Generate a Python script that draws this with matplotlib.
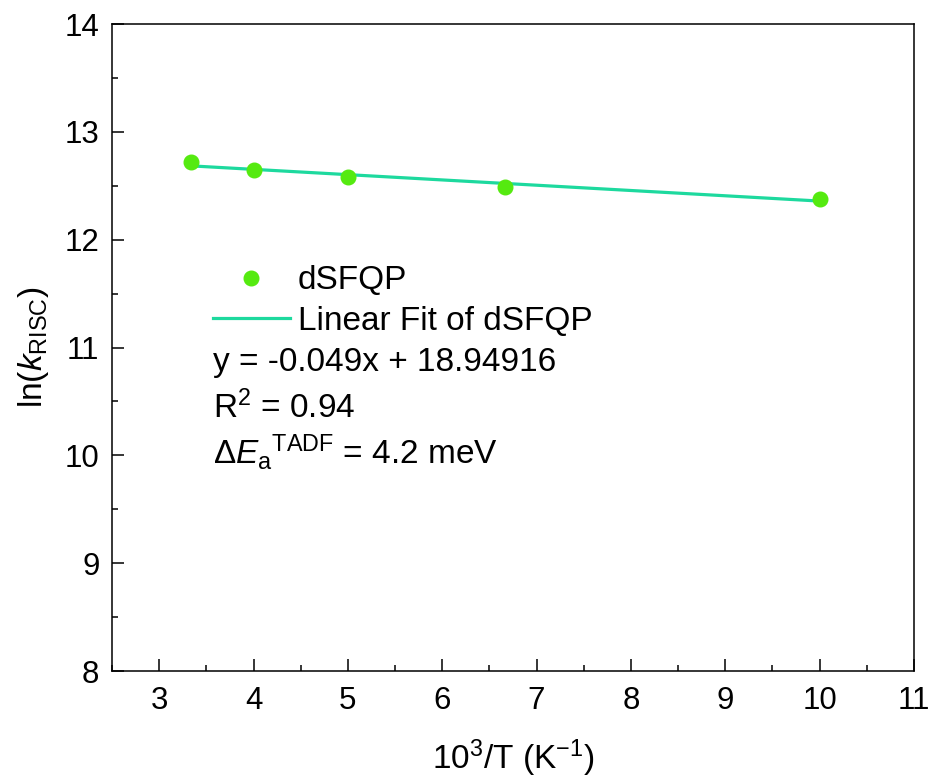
import numpy as np
import matplotlib
matplotlib.use("Agg")
import matplotlib.pyplot as plt
from matplotlib.ticker import MultipleLocator

plt.rcParams['font.family'] = ['Liberation Sans', 'DejaVu Sans']
plt.rcParams['mathtext.fontset'] = 'custom'
plt.rcParams['mathtext.rm'] = 'Liberation Sans'
plt.rcParams['mathtext.it'] = 'Liberation Sans:italic'

# data: 1000/T and ln(kRISC)
inv_T = [3.333, 4.0, 5.0, 6.667, 10.0]
ln_k = [12.72, 12.65, 12.58, 12.49, 12.38]

fit_label = "y = -0.049x + 18.94916"
r2_label = r"R$^2$ = 0.94"
ea_label = r"$\Delta E_{\mathrm{a}}$$^{\mathrm{TADF}}$ = 4.2 meV"

# linear fit over the data
slope, intercept = np.polyfit(inv_T, ln_k, 1)
x_fit = np.array([min(inv_T), max(inv_T)])
y_fit = slope * x_fit + intercept

fig = plt.figure(figsize=(9.34, 7.8), dpi=100)
ax = fig.add_axes([0.1199, 0.1397, 0.8587, 0.8295])

ax.plot(inv_T, ln_k, 'o', color='#55EA10', markersize=10.5, label='dSFQP', zorder=3)
ax.plot(x_fit, y_fit, '-', color='#1DD99E', linewidth=2.3, label='Linear Fit of dSFQP', zorder=2)

ax.set_xlim(2.5, 11)
ax.set_ylim(8, 14)
ax.xaxis.set_major_locator(MultipleLocator(1))
ax.xaxis.set_minor_locator(MultipleLocator(0.5))
ax.yaxis.set_major_locator(MultipleLocator(1))
ax.yaxis.set_minor_locator(MultipleLocator(0.5))
ax.tick_params(which='both', direction='in', top=False, right=False, width=1.1)
ax.tick_params(which='major', length=8.5, labelsize=22.5)
ax.tick_params(axis='x', which='major', pad=11)
ax.tick_params(axis='y', which='major', pad=9)
ax.tick_params(which='minor', length=4.3)
for sp in ax.spines.values():
    sp.set_linewidth(1.1)

ax.set_xlabel(r"10$^3$/T (K$^{-1}$)", fontsize=24, labelpad=15)
ax.set_ylabel(r"ln($k_{\mathrm{RISC}}$)", fontsize=24, labelpad=10)

leg = ax.legend(loc='upper left', bbox_to_anchor=(0.126, 0.627), frameon=False,
                fontsize=24, handlelength=2.3, handletextpad=0.24,
                labelspacing=0.28, borderaxespad=0, borderpad=0)

ax.text(0.126, 0.4776, fit_label, transform=ax.transAxes, fontsize=24, va='center')
ax.text(0.126, 0.4065, r2_label, transform=ax.transAxes, fontsize=24, va='center')
ax.text(0.126, 0.3385, ea_label, transform=ax.transAxes, fontsize=24, va='center')

fig.savefig("out.png", dpi=100)
